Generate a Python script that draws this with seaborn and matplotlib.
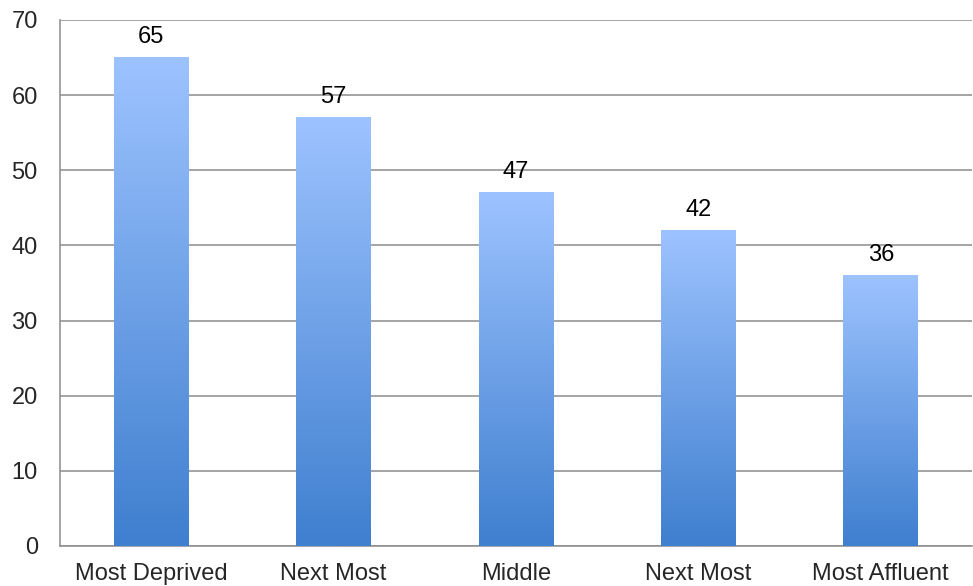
import matplotlib
matplotlib.use("Agg")
import matplotlib.pyplot as plt
import seaborn as sns
import numpy as np
import pandas as pd
from matplotlib.colors import LinearSegmentedColormap

categories = ["Most Deprived", "Next Most", "Middle", "Next Most ", "Most Affluent"]
values = [65, 57, 47, 42, 36]
yticks = [0, 10, 20, 30, 40, 50, 60, 70]

sns.set_style("white")
plt.rcParams['font.family'] = ['Liberation Sans', 'DejaVu Sans']

df = pd.DataFrame({"cat": categories, "val": values})

fig = plt.figure(figsize=(9.73, 5.86), dpi=100)
ax = fig.add_axes([60/973, 1-546/586, 912/973, 526/586])

sns.barplot(data=df, x="cat", y="val", ax=ax, width=0.41, color="#6699e0",
            saturation=1, order=categories)

FS = 17
cmap = LinearSegmentedColormap.from_list("g", ["#3f7fcf", "#9dc3ff"])
grad = np.linspace(0, 1, 256).reshape(-1, 1)
ax.set_ylim(0, 70)
ax.set_xlim(-0.5, len(categories) - 0.5)
for p in ax.patches:
    x0, y0 = p.get_x(), p.get_y()
    w, h = p.get_width(), p.get_height()
    p.set_facecolor("none")
    p.set_edgecolor("none")
    ax.imshow(grad, extent=[x0, x0 + w, y0, y0 + h], origin="lower",
              cmap=cmap, aspect="auto", zorder=3)
    ax.annotate(f"{h:g}", (x0 + w/2, h), xytext=(0, 7), textcoords="offset points",
                ha="center", va="bottom", fontsize=FS, color="black", zorder=5)
ax.set_xlim(-0.5, len(categories) - 0.5)
ax.set_ylim(0, 70)

ax.set_yticks(yticks)
ax.set_yticklabels([str(t) for t in yticks], fontsize=FS)
ax.yaxis.grid(True, color="#8c8c8c", linewidth=1.1)
ax.set_axisbelow(True)

ax.set_xticks(range(len(categories)))
ax.set_xticklabels([c.strip() for c in categories], fontsize=FS)
ax.tick_params(axis="x", length=0, pad=12)
ax.set_xticks(np.arange(-0.5, len(categories), 1.0), minor=True)
ax.tick_params(axis="x", which="minor", length=6, color="#8c8c8c", width=1.1, direction="out")
ax.tick_params(axis="y", length=6, color="#8c8c8c", width=1.1, direction="out", pad=10)
ax.set_xlabel("")
ax.set_ylabel("")

for s in ["top", "right"]:
    ax.spines[s].set_visible(False)
for s in ["left", "bottom"]:
    ax.spines[s].set_color("#8c8c8c")
    ax.spines[s].set_linewidth(1.1)

fig.savefig("out.png", dpi=100)
